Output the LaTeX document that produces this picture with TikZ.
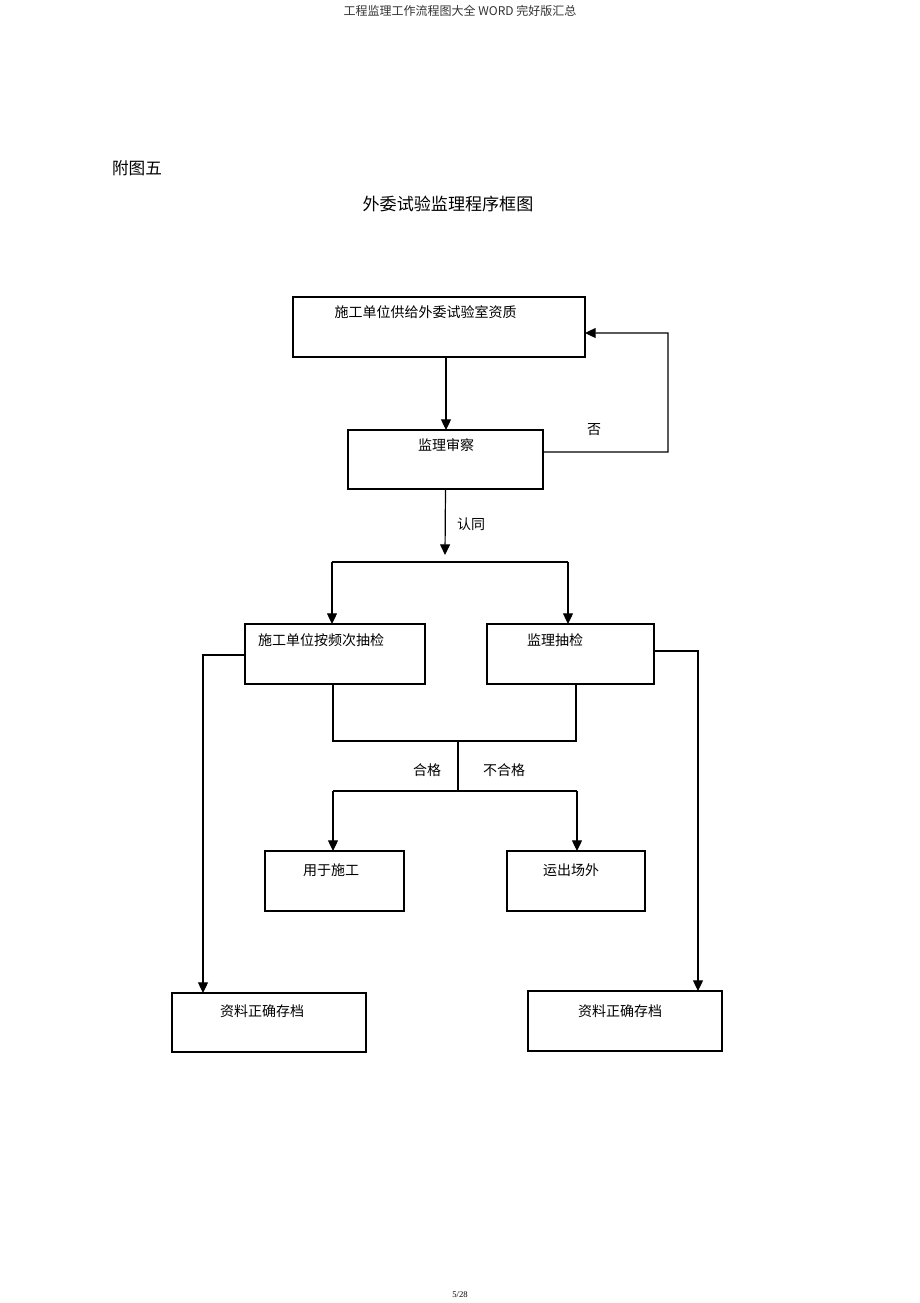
\documentclass[tikz,border=0pt]{standalone}
\usepackage{fontspec}
\setmainfont{Liberation Serif}
\newfontfamily\cjk{Noto Sans CJK SC}
\usetikzlibrary{arrows.meta}
\begin{document}
\begin{tikzpicture}[x=0.75pt,y=-0.75pt,
  box/.style={draw=black,line width=0.8pt,rectangle,inner sep=0pt,outer sep=0pt},
  thickbox/.style={box,line width=1.2pt},
  txt/.style={inner sep=0pt,font=\cjk\fontsize{10.5pt}{12pt}\selectfont},
  ln/.style={line width=0.9pt},
  arr/.style={ln,-{Triangle[width=7.5pt,length=8pt]}},
]
\useasboundingbox[fill=white] (0,0) rectangle (920,1303);
% header & footer
\node[inner sep=0pt,font=\cjk\fontsize{9pt}{10pt}\selectfont,text=black!80] (hdr) at (460,11) {工程监理工作流程图大全 WORD 完好版汇总};
\node[inner sep=0pt,font=\fontsize{6.5pt}{7pt}\selectfont] (ftr) at (460,1295) {5/28};
\node[inner sep=0pt,font=\cjk\fontsize{12.5pt}{14pt}\selectfont] (fig) at (137,168) {附图五};
\node[inner sep=0pt,font=\cjk\fontsize{12.8pt}{14pt}\selectfont] (ttl) at (448,204) {外委试验监理程序框图};
% boxes
\node[thickbox,minimum width=219pt,minimum height=45pt] (b1) at (439,327) {};
\node[txt] (t1) at (425.5,312) {施工单位供给外委试验室资质};
\node[box,minimum width=146.25pt,minimum height=44.25pt] (b2) at (445.5,459.5) {};
\node[txt] (t2) at (446,445) {监理审察};
\node[box,minimum width=135pt,minimum height=45pt] (b3) at (335,654) {};
\node[txt] (t3) at (321,640) {施工单位按频次抽检};
\node[box,minimum width=125.25pt,minimum height=45pt] (b4) at (570.5,654) {};
\node[txt] (t4) at (555,640) {监理抽检};
\node[box,minimum width=104.25pt,minimum height=45pt] (b7) at (334.5,881) {};
\draw[line width=1.5pt] (b7.north west) -- (b7.south west);
\node[txt] (t7) at (331,870) {用于施工};
\node[box,minimum width=103.5pt,minimum height=45pt] (b8) at (576,881) {};
\node[txt] (t8) at (571,870) {运出场外};
\node[box,minimum width=145.5pt,minimum height=44.25pt] (b5) at (269,1022.5) {};
\node[txt] (t5) at (262,1011) {资料正确存档};
\node[box,minimum width=145.5pt,minimum height=45pt] (b6) at (625,1021) {};
\node[txt] (t6) at (620,1011) {资料正确存档};
% labels
\node[txt] (no) at (594,430) {否};
\node[txt] (ok) at (471,524) {认同};
\node[txt] (pass) at (427,770) {合格};
\node[txt] (fail) at (504,770) {不合格};
% coordinates
\coordinate (c1) at (445,555);
\coordinate (sl) at (332,562);
\coordinate (sr) at (568,562);
\coordinate (fb) at (668,452);
\coordinate (lx) at (203,655);
\coordinate (rx) at (698,651);
\coordinate (j1) at (458,741);
\coordinate (j2) at (458,790);
\coordinate (dl) at (333,791);
\coordinate (dr) at (577,791);
% connectors
\draw[arr] (b1.south -| 446,0) -- (b2.north -| 446,0);
\draw[arr] ([yshift=5.6pt]b2.east) -- (fb) -- (668,333) -- ([yshift=-4.5pt]b1.east);
\draw[arr] (b2.south) -- (c1);
\draw[ln] (sl) -- (sr);
\draw[arr] (sl) -- (sl |- b3.north);
\draw[arr] (sr) -- (sr |- b4.north);
\draw[arr] (b3.west |- lx) -- (lx) -- (lx |- b5.north);
\draw[arr] (b4.east |- rx) -- (rx) -- (rx |- b6.north);
\draw[ln] (b3.south -| 333,0) -- (333,741) -- (576,741) -- (b4.south -| 576,0);
\draw[line width=1.5pt] (j1) -- (j2);
\draw[ln] (dl) -- (dr);
\draw[arr] (dl) -- (dl |- b7.north);
\draw[arr] (dr) -- (dr |- b8.north);
\end{tikzpicture}
\end{document}
